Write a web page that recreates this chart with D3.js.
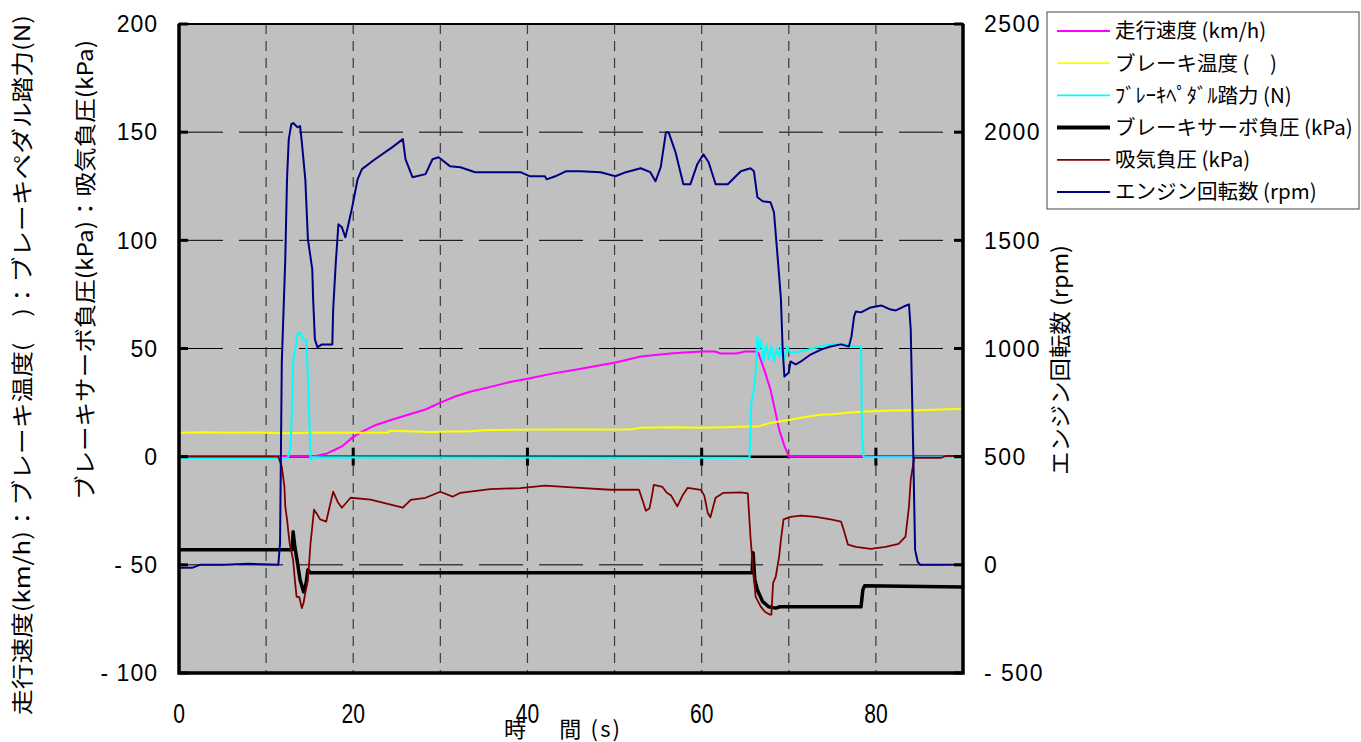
<!DOCTYPE html>
<html>
<head>
<meta charset="utf-8">
<script src="https://cdnjs.cloudflare.com/ajax/libs/d3/7.8.5/d3.min.js"></script>
<style>
  body { margin: 0; background: #fff; }
  svg { display: block; }
  .jp { font-family: "Noto Sans CJK JP", "Noto Sans", sans-serif; }
  .num { font-family: "Liberation Sans", Arial, sans-serif; }
</style>
</head>
<body>
<svg id="chart" width="1361" height="742"></svg>
<script>
// time (s), value pairs
var speed = [[0,0],[15.5,0],[16.2,0.8],[17,1.5],[17.9,3.2],[18.8,5],[19.9,8.8],[21,11.6],[22.5,14.5],[24,16.5],[26,19],[28.3,21.8],[30,25],[31.7,27.8],[33.4,30],[36,32.5],[38,34.5],[40,36],[43,38.5],[46,40.5],[48,42],[50.1,43.5],[53,46.3],[56.4,47.7],[58,48.2],[60.1,48.6],[61.5,48.6],[62.2,47.7],[64,47.7],[65,48.6],[66.2,48.6],[66.5,48],[67.2,40],[67.9,31],[68.5,20],[68.9,12.5],[69.5,5],[70,0],[90,0]];

var brakeTemp = [[0,11.1],[3,11.3],[6,11],[9,11.2],[12,10.8],[15,11],[18,11.1],[20,11],[24,11.2],[24.2,12],[27,11.6],[29,11.4],[31,11.6],[33,11.6],[35,12.2],[38,12.4],[40,12.5],[44,12.6],[48,12.6],[50,12.5],[52,12.7],[53,13.4],[57,13.6],[60,13.4],[63,13.6],[65,13.9],[66.4,13.9],[68,15.7],[70.2,17.1],[72,18.5],[73.7,19.4],[75,19.6],[77,20.4],[79,20.9],[81.7,21.3],[85,21.5],[90,22.2]];

var pedalForce = [[0,-0.6],[12.5,-0.6],[12.8,4.6],[13,26],[13.1,43.5],[13.6,56.5],[13.9,57.4],[14.3,54],[14.6,54],[14.8,37],[15,12.5],[15.1,-1.4],[15.3,-0.3],[65.5,-0.5],[65.7,25],[66,31],[66.2,39],[66.4,55.6],[66.6,49.5],[66.8,54],[67.1,44],[67.4,52],[67.7,45],[68,51],[68.3,44],[68.6,50],[68.9,46],[69.2,52],[69.5,45],[69.8,51],[70.2,48],[71.4,48.6],[73.7,51],[76,52.3],[77.3,51],[78.3,51],[78.4,11],[78.6,-0.3],[90,-0.3]];

var servoVac = [[0,-43],[13,-43],[13.1,-34.7],[13.3,-41.7],[13.6,-49],[13.9,-57],[14.3,-62.5],[14.6,-58.3],[14.8,-52.3],[15.1,-53.7],[65.8,-53.7],[65.9,-44.4],[66.1,-57],[66.4,-61.6],[67,-67],[67.7,-69.4],[68.5,-70],[69,-69.4],[78.3,-69.4],[78.5,-61.6],[78.7,-59.7],[90,-60.2]];

var intakeVac = [[0,0],[11.4,0],[11.8,-4.6],[12.1,-13.9],[12.2,-23],[12.4,-29],[12.7,-40],[13.1,-47.7],[13.3,-57],[13.5,-64.8],[13.8,-64.8],[14.1,-70],[14.3,-67.6],[14.5,-63],[14.8,-57],[15.1,-40],[15.3,-32.4],[15.5,-24.5],[15.9,-26.9],[16.2,-29],[16.9,-30],[17.4,-21.3],[17.7,-16.2],[18.2,-20.8],[18.7,-23.6],[19.7,-19],[22,-19.9],[24.3,-22.2],[25.7,-23.6],[26.6,-20],[28.3,-19],[30,-16.2],[31.4,-18.5],[32.3,-16.7],[35.7,-15],[39.2,-14.5],[42,-13.4],[46,-14.4],[49.5,-15.3],[52.8,-15.3],[53.2,-20],[53.6,-25],[54,-24],[54.3,-18],[54.5,-13],[55.5,-14],[56,-16.7],[56.5,-18],[57.2,-23],[57.8,-18],[58.4,-14.4],[59.9,-15.3],[60.3,-18],[60.7,-26],[61,-28],[61.6,-19],[62.5,-16.7],[64.5,-16.5],[65.3,-17],[65.6,-37],[65.9,-52],[66.2,-64.8],[66.8,-69.4],[67.3,-71.8],[67.8,-73],[68,-73],[68.2,-58.3],[68.5,-55.6],[68.9,-46],[69.1,-38.4],[69.4,-29],[70.2,-27.8],[71.4,-27.3],[73.1,-27.8],[74.8,-29],[76,-30],[76.3,-33.8],[76.8,-40.7],[77.7,-41.7],[79.4,-42.6],[81.1,-41.7],[82.6,-40.3],[83.4,-37],[83.8,-23],[84,-10.6],[84.4,-0.5],[87.5,-0.5],[88,0.3],[90,0.3]];

var engineRpm = [[0,-14],[1.5,-14],[2.4,0],[5.3,0],[8,5],[11.4,0],[11.6,100],[11.8,935],[12.2,1412],[12.4,1782],[12.6,1968],[12.9,2037],[13.1,2042],[13.6,2023],[13.9,2028],[14.1,1954],[14.5,1782],[14.8,1505],[15.3,1366],[15.4,1227],[15.6,1042],[15.9,1005],[16.4,1019],[17.6,1019],[17.7,1180],[18,1398],[18.3,1574],[18.7,1560],[19.1,1514],[19.4,1565],[19.9,1657],[20.5,1782],[21,1829],[22.5,1875],[24.5,1931],[25.7,1968],[26,1875],[26.8,1792],[28.3,1806],[29.1,1875],[29.8,1884],[31.1,1843],[32.3,1838],[34,1815],[39.2,1815],[40.3,1796],[42,1796],[42.2,1782],[43.2,1796],[44.4,1819],[46.1,1819],[48.4,1815],[50.1,1796],[51.3,1815],[53,1833],[54.1,1815],[54.7,1773],[55.3,1838],[55.9,2000],[56.2,2000],[57,1907],[57.9,1759],[58.7,1759],[59.5,1852],[60.2,1898],[60.8,1861],[61.6,1759],[63,1759],[64.5,1819],[65.6,1833],[66,1819],[66.4,1699],[67,1681],[67.9,1676],[68.3,1630],[68.9,1333],[69.1,1227],[69.3,995],[69.5,870],[70,889],[70.2,940],[70.8,926],[71.4,940],[72.5,972],[73.7,995],[74.8,1009],[76,1019],[76.9,1009],[77.2,1056],[77.5,1148],[77.7,1171],[78.3,1167],[79.4,1190],[80.6,1199],[81.7,1180],[82.3,1176],[83.2,1194],[83.8,1204],[84,1088],[84.3,500],[84.5,69],[84.8,14],[85.1,0],[90,0]];

var xTicks = [0, 20, 40, 60, 80];
var xGrid = [10, 20, 30, 40, 50, 60, 70, 80];
var yTicks = [200, 150, 100, 50, 0, -50, -100];
var yGrid = [150, 100, 50, -50];
var rTicks = [2500, 2000, 1500, 1000, 500, 0, -500];

var series = [
  { name: "走行速度 (km/h)", data: speed, color: "#ff00ff", width: 2, right: false },
  { name: "ブレーキ温度 (　)", data: brakeTemp, color: "#ffff00", width: 2, right: false },
  { name: "ﾌﾞﾚｰｷﾍﾟﾀﾞﾙ踏力 (N)", data: pedalForce, color: "#00ffff", width: 2, right: false },
  { name: "ブレーキサーボ負圧 (kPa)", data: servoVac, color: "#000000", width: 3.5, right: false },
  { name: "吸気負圧 (kPa)", data: intakeVac, color: "#800000", width: 1.8, right: false },
  { name: "エンジン回転数 (rpm)", data: engineRpm, color: "#000080", width: 2, right: true }
];

var svg = d3.select("#chart");
var plotL = 179, plotR = 963, plotT = 24, plotB = 673;

var x = d3.scaleLinear().domain([0, 90]).range([plotL, plotR]);
var y = d3.scaleLinear().domain([-100, 200]).range([plotB, plotT]);
var yR = d3.scaleLinear().domain([-500, 2500]).range([plotB, plotT]);

// plot area
svg.append("rect")
  .attr("x", plotL).attr("y", plotT)
  .attr("width", plotR - plotL).attr("height", plotB - plotT)
  .attr("fill", "#c0c0c0");

// grid lines
svg.selectAll(".hgrid").data(yGrid).enter().append("line")
  .attr("x1", plotL).attr("x2", plotR)
  .attr("y1", function(d) { return y(d); }).attr("y2", function(d) { return y(d); })
  .attr("stroke", "#000").attr("stroke-width", 1)
  .attr("stroke-dasharray", "44,16");

svg.selectAll(".vgrid").data(xGrid).enter().append("line")
  .attr("x1", function(d) { return x(d); }).attr("x2", function(d) { return x(d); })
  .attr("y1", plotT).attr("y2", plotB)
  .attr("stroke", "#3a3a3a").attr("stroke-width", 1.2)
  .attr("stroke-dasharray", "10,7");

// x axis line sits on y = 0
svg.append("line")
  .attr("x1", plotL).attr("x2", plotR)
  .attr("y1", y(0)).attr("y2", y(0))
  .attr("stroke", "#000").attr("stroke-width", 2.5);
svg.selectAll(".xtick").data(xTicks.slice(1)).enter().append("line")
  .attr("x1", function(d) { return x(d); }).attr("x2", function(d) { return x(d); })
  .attr("y1", y(0) - 9).attr("y2", y(0) + 9)
  .attr("stroke", "#000").attr("stroke-width", 3);

// series
var line = d3.line();
series.forEach(function(s) {
  var sy = s.right ? yR : y;
  svg.append("path")
    .datum(s.data)
    .attr("fill", "none")
    .attr("stroke", s.color)
    .attr("stroke-width", s.width)
    .attr("stroke-linejoin", "round")
    .attr("d", line.x(function(d) { return x(d[0]); }).y(function(d) { return sy(d[1]); }));
});

// frame
svg.append("rect")
  .attr("x", plotL).attr("y", plotT)
  .attr("width", plotR - plotL).attr("height", plotB - plotT)
  .attr("fill", "none").attr("stroke", "#000").attr("stroke-width", 2);
svg.append("path")
  .attr("d", "M" + plotL + "," + plotT + "V" + plotB + "H" + plotR + "V" + plotT)
  .attr("fill", "none").attr("stroke", "#000").attr("stroke-width", 3.5);

// inside ticks on both value axes
svg.selectAll(".ltick").data(yTicks).enter().append("line")
  .attr("x1", plotL).attr("x2", plotL + 9)
  .attr("y1", function(d) { return y(d); }).attr("y2", function(d) { return y(d); })
  .attr("stroke", "#000").attr("stroke-width", 3);
svg.selectAll(".rtick").data(rTicks).enter().append("line")
  .attr("x1", plotR - 9).attr("x2", plotR)
  .attr("y1", function(d) { return yR(d); }).attr("y2", function(d) { return yR(d); })
  .attr("stroke", "#000").attr("stroke-width", 3);

function fmt(d) { return d < 0 ? "- " + Math.abs(d) : String(d); }

// tick labels
svg.selectAll(".ylab").data(yTicks).enter().append("text")
  .attr("class", "num")
  .attr("x", 158).attr("y", function(d) { return y(d); })
  .attr("dy", "0.36em")
  .attr("text-anchor", "end")
  .attr("font-size", 23).attr("letter-spacing", 1)
  .text(fmt);

svg.selectAll(".rlab").data(rTicks).enter().append("text")
  .attr("class", "num")
  .attr("x", 984).attr("y", function(d) { return yR(d); })
  .attr("dy", "0.36em")
  .attr("font-size", 23).attr("letter-spacing", 1.5)
  .text(fmt);

svg.selectAll(".xlab").data(xTicks).enter().append("text")
  .attr("class", "num")
  .attr("transform", function(d) { return "translate(" + x(d) + ",723) scale(0.78,1)"; })
  .attr("text-anchor", "middle")
  .attr("font-size", 27)
  .text(function(d) { return d; });

// axis titles
svg.append("text")
  .attr("class", "jp")
  .attr("x", 562).attr("y", 737)
  .attr("text-anchor", "middle")
  .attr("font-size", 22)
  .attr("textLength", 116).attr("lengthAdjust", "spacing")
  .text("時　 間 (s)");

svg.append("text")
  .attr("class", "jp")
  .attr("transform", "translate(30,365) rotate(-90)")
  .attr("text-anchor", "middle")
  .attr("font-size", 22)
  .attr("textLength", 700).attr("lengthAdjust", "spacingAndGlyphs")
  .text("走行速度(km/h)：ブレーキ温度(　)：ブレーキペダル踏力(N)");

svg.append("text")
  .attr("class", "jp")
  .attr("transform", "translate(93,270) rotate(-90)")
  .attr("text-anchor", "middle")
  .attr("font-size", 22)
  .attr("textLength", 460).attr("lengthAdjust", "spacingAndGlyphs")
  .text("ブレーキサーボ負圧(kPa)：吸気負圧(kPa)");

svg.append("text")
  .attr("class", "jp")
  .attr("transform", "translate(1068,360) rotate(-90)")
  .attr("text-anchor", "middle")
  .attr("font-size", 22)
  .attr("textLength", 230).attr("lengthAdjust", "spacingAndGlyphs")
  .text("エンジン回転数 (rpm)");

// legend
var lg = svg.append("g").attr("transform", "translate(1047,12)");
lg.append("rect")
  .attr("width", 312).attr("height", 197)
  .attr("fill", "#fff").attr("stroke", "#444").attr("stroke-width", 1);
var rowY = d3.scalePoint().domain(series.map(function(s) { return s.name; })).range([19, 180]);
series.forEach(function(s) {
  var ry = rowY(s.name);
  lg.append("line")
    .attr("x1", 10).attr("x2", 63).attr("y1", ry).attr("y2", ry)
    .attr("stroke", s.color).attr("stroke-width", s.width === 3.5 ? 4 : 1.8);
  lg.append("text")
    .attr("class", "jp")
    .attr("x", 68).attr("y", ry).attr("dy", "0.36em")
    .attr("font-size", 20.5)
    .text(s.name);
});
</script>
</body>
</html>
